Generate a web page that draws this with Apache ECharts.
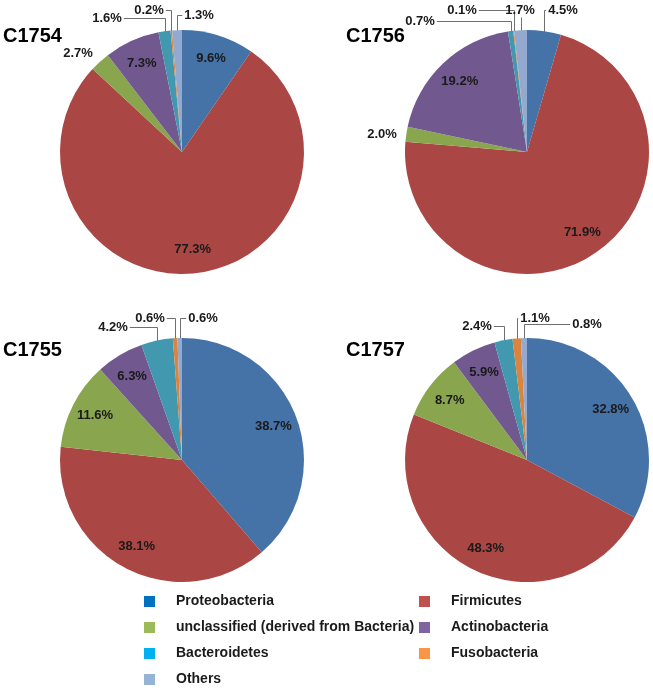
<!DOCTYPE html>
<html>
<head>
<meta charset="utf-8">
<script src="https://cdn.jsdelivr.net/npm/echarts@6/dist/echarts.min.js"></script>
<style>
html,body{margin:0;padding:0;background:#fff;}
#chart{width:653px;height:688px;}
</style>
</head>
<body>
<div id="chart"></div>
<script>
// ---- data ----
const categories = ['Proteobacteria', 'Firmicutes', 'unclassified (derived from Bacteria)', 'Actinobacteria', 'Bacteroidetes', 'Fusobacteria', 'Others'];
const samples = ['C1754', 'C1756', 'C1755', 'C1757'];
const valuesC1754 = [9.6, 77.3, 2.7, 7.3, 1.6, 0.2, 1.3];
const valuesC1756 = [4.5, 71.9, 2.0, 19.2, 0.7, 0.1, 1.7];
const valuesC1755 = [38.7, 38.1, 11.6, 6.3, 4.2, 0.6, 0.6];
const valuesC1757 = [32.8, 48.3, 8.7, 5.9, 2.4, 1.1, 0.8];

// ---- styling / layout ----
const allValues = [valuesC1754, valuesC1756, valuesC1755, valuesC1757];
const sliceColors = ['#4572A7', '#AA4643', '#89A54E', '#71588F', '#4198AF', '#DB843D', '#93A9CF'];
const legendColors = ['#0070C0', '#C0504D', '#9BBB59', '#8064A2', '#00B0F0', '#F79646', '#95B3D7'];
const centers = [[182, 152], [527, 152], [182, 460], [527, 460]];
const titlePos = [[3, 26], [346, 26], [3, 340], [346, 340]];
const R = 122;
// outside-label offsets from pie centre (label placement only)
const outsideOffsets = [
  {2: [-104, -99], 4: [-75, -134], 5: [-33, -142], 6: [17, -137]},
  {0: [36, -142], 2: [-145, -18], 4: [-107, -131], 5: [-65, -142], 6: [-7, -142]},
  {4: [-69, -133], 5: [-32, -142], 6: [21, -142]},
  {4: [-50, -134], 5: [8, -142], 6: [60, -136]}
];
const insideFrac = [0.8, 0.8, 0.8, 0.8];

const labelFont = {fontFamily: 'Liberation Sans, Arial, sans-serif', fontWeight: 'bold', fontSize: 13, color: '#1a1a1a'};

function midAngle(vals, i) {
  const total = vals.reduce((a, b) => a + b, 0);
  const before = vals.slice(0, i).reduce((a, b) => a + b, 0);
  return (before + vals[i] / 2) / total * Math.PI * 2;
}
const crisp = v => Math.round(v) + 0.5;

function makeSeries(s) {
  const vals = allValues[s];
  const data = vals.map((v, i) => {
    const inside = v >= 5;
    return {
      name: categories[i],
      value: v,
      itemStyle: {color: sliceColors[i]},
      label: {position: inside ? 'inside' : 'outside'},
      labelLine: {show: !inside}
    };
  });
  return {
    type: 'pie',
    name: samples[s],
    center: centers[s],
    radius: [0, R],
    startAngle: 90,
    clockwise: true,
    avoidLabelOverlap: false,
    animation: false,
    label: Object.assign({show: true, formatter: p => p.value.toFixed(1) + '%'}, labelFont),
    labelLine: {show: true, lineStyle: {color: '#6F6F6F', width: 1}},
    emphasis: {disabled: true},
    data: data,
    labelLayout: function (p) {
      const i = p.dataIndex;
      const [cx, cy] = centers[s];
      const mid = midAngle(vals, i);
      if (vals[i] >= 5) {
        const f = insideFrac[s];
        return {x: cx + Math.sin(mid) * R * f, y: cy - Math.cos(mid) * R * f, align: 'center', verticalAlign: 'middle'};
      }
      const o = outsideOffsets[s][i];
      const lx = cx + o[0], ly = cy + o[1];
      const w = p.labelRect.width, h = p.labelRect.height;
      const ex = crisp(cx + Math.sin(mid) * (R - 1)), ey = cy - Math.cos(mid) * (R - 1);
      const left = lx - w / 2, right = lx + w / 2, bottom = ly + h / 2;
      let pts;
      if (ex >= left && ex <= right) {
        pts = [[ex, ey], [ex, (ey + bottom) / 2], [ex, bottom + 1]];
      } else {
        const sx = ex < left ? left - 2 : right + 2;
        const yl = crisp(ly);
        if (Math.abs(ly - ey) - h / 2 < 5 && Math.abs(sx - ex) < 15) {
          pts = [[ex, ey], [ex, ey], [ex, ey]];
        } else {
          pts = [[ex, ey], [ex, yl], [sx, yl]];
        }
      }
      return {x: lx, y: ly, align: 'center', verticalAlign: 'middle', labelLinePoints: pts};
    }
  };
}

const legendTextStyle = {fontFamily: 'Liberation Sans, Arial, sans-serif', fontWeight: 'bold', fontSize: 14, color: '#1a1a1a', padding: [0, 0, 0, 16], lineHeight: 15};
const leftItems = [0, 2, 4, 6];
const rightItems = [1, 3, 5];

const option = {
  backgroundColor: '#ffffff',
  animation: false,
  title: samples.map((t, s) => ({
    text: t, left: titlePos[s][0], top: titlePos[s][1], padding: 0,
    textStyle: {fontFamily: 'Liberation Sans, Arial, sans-serif', fontWeight: 'bold', fontSize: 20, color: '#000'}
  })),
  legend: [
    {orient: 'vertical', left: 144, top: 594, padding: 0, itemWidth: 11, itemHeight: 11, itemGap: 11, selectedMode: false, icon: 'rect', textStyle: legendTextStyle,
     data: leftItems.map(i => ({name: categories[i], itemStyle: {color: legendColors[i]}}))},
    {orient: 'vertical', left: 419, top: 594, padding: 0, itemWidth: 11, itemHeight: 11, itemGap: 11, selectedMode: false, icon: 'rect', textStyle: legendTextStyle,
     data: rightItems.map(i => ({name: categories[i], itemStyle: {color: legendColors[i]}}))}
  ],
  series: samples.map((_, s) => makeSeries(s))
};

const chart = echarts.init(document.getElementById('chart'), null, {renderer: 'canvas'});
chart.setOption(option);
</script>
</body>
</html>
